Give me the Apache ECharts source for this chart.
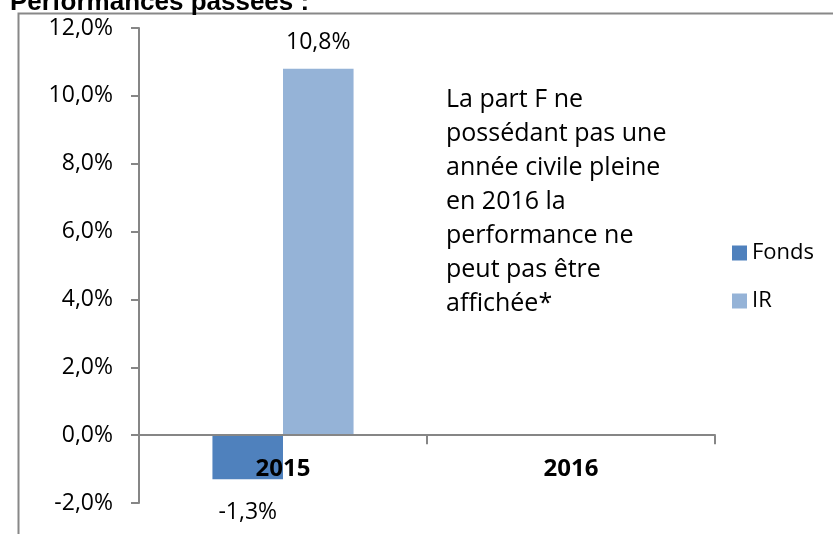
<!DOCTYPE html>
<html>
<head>
<meta charset="utf-8">
<script src="https://cdn.jsdelivr.net/npm/echarts@6/dist/echarts.min.js"></script>
<style>
  html, body { margin: 0; padding: 0; background: #fff; }
  #chart { width: 833px; height: 534px; }
</style>
</head>
<body>
<div id="chart"></div>
<script>
// data
var categories = ["2015", "2016"];
var fondsValues = [-1.3, null];
var irValues = [10.8, null];
var yMin = -2;
var yMax = 12;
var yStep = 2;
var noteText = "La part F ne\npossédant pas une\nannée civile pleine\nen 2016 la\nperformance ne\npeut pas être\naffichée*";

var font = "Open Sans";
var axisGray = "#868686";

function pct(v) {
  return v.toFixed(1).replace(".", ",") + "%";
}

// negative bar gets its label under the bar (like excel's outside end)
function toItems(values) {
  return values.map(function (v) {
    if (v === null) return null;
    if (v < 0) return { value: v, label: { position: "bottom", distance: 22 } };
    return v;
  });
}

var myChart = echarts.init(document.getElementById("chart"));
var option = {
  animation: false,
  color: ["#4F81BD", "#95B3D7"],
  textStyle: { fontFamily: font },
  grid: { left: 139, right: 118, top: 28, bottom: 31, outerBoundsMode: "none" },
  legend: {
    orient: "vertical",
    left: 727,
    top: 237,
    itemWidth: 15,
    itemHeight: 15,
    itemGap: 26,
    icon: "rect",
    textStyle: { fontFamily: font, fontSize: 22, color: "#000" },
    data: ["Fonds", "IR"]
  },
  xAxis: {
    type: "category",
    data: categories,
    axisLine: { onZero: true, lineStyle: { color: axisGray, width: 2 } },
    axisTick: { show: true, length: 9, lineStyle: { color: axisGray, width: 2 } },
    axisLabel: {
      // labels sit just under the zero line, over the negative bar
      margin: -46,
      fontFamily: font,
      fontSize: 24,
      fontWeight: "bold",
      color: "#000"
    },
    z: 10
  },
  yAxis: {
    type: "value",
    min: yMin,
    max: yMax,
    interval: yStep,
    splitLine: { show: false },
    axisLine: { show: true, lineStyle: { color: axisGray, width: 2 } },
    axisTick: { show: true, length: 8, lineStyle: { color: axisGray, width: 2 } },
    axisLabel: {
      margin: 26,
      fontFamily: font,
      fontSize: 23,
      color: "#000",
      formatter: function (v) { return pct(v); }
    }
  },
  series: [
    {
      name: "Fonds",
      type: "bar",
      barWidth: "24.5%",
      barGap: "0%",
      data: toItems(fondsValues),
      label: {
        show: true,
        position: "top",
        distance: 14,
        fontFamily: font,
        fontSize: 23,
        color: "#000",
        formatter: function (p) { return pct(p.value); }
      }
    },
    {
      name: "IR",
      type: "bar",
      barWidth: "24.5%",
      barGap: "0%",
      data: toItems(irValues),
      label: {
        show: true,
        position: "top",
        distance: 15,
        fontFamily: font,
        fontSize: 23,
        color: "#000",
        formatter: function (p) { return pct(p.value); }
      }
    }
  ],
  graphic: [
    {
      type: "rect",
      left: 16,
      top: 11,
      shape: { width: 900, height: 600 },
      style: { fill: "none", stroke: "#888", lineWidth: 2 },
      silent: true
    },
    {
      type: "text",
      left: 10,
      top: -10,
      style: {
        text: "Performances passées :",
        font: "bold 26px 'Liberation Sans'",
        fill: "#000"
      }
    },
    {
      type: "text",
      left: 446,
      top: 83,
      style: {
        text: noteText,
        font: "25px 'Open Sans'",
        lineHeight: 34,
        fill: "#000"
      }
    }
  ]
};
myChart.setOption(option);
</script>
</body>
</html>
